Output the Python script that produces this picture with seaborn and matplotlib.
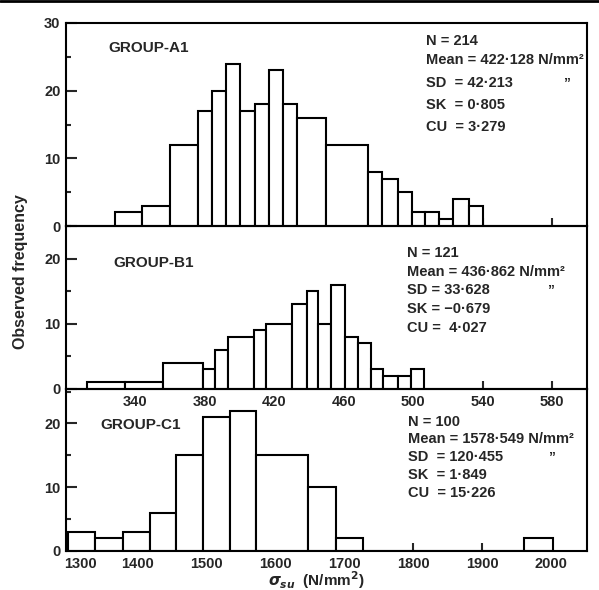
import numpy as np
import pandas as pd
import matplotlib
matplotlib.use("Agg")
import matplotlib.pyplot as plt
import matplotlib.transforms as mtransforms
import seaborn as sns
from matplotlib.lines import Line2D
from matplotlib.ticker import MultipleLocator, FixedLocator

# ---------------- data ----------------
a1_edges = [328, 344, 360, 376, 384, 392, 400, 409, 417, 425, 433, 449.5,
            474, 482, 491, 499, 507, 515, 523, 532, 540]
a1_counts = [2, 3, 12, 17, 20, 24, 17, 18, 23, 18, 16, 12, 8, 7, 5, 2, 2, 1, 4, 3]
a1_title = "GROUP-A1"
a1_stats = ["N = 214", "Mean = 422·128 N/mm²", "SD  = 42·213", "SK  = 0·805", "CU  = 3·279"]

b1_edges = [312, 334, 356, 379, 385.6, 393.3, 408, 415, 430.3, 438.6, 445.3,
            452.6, 460.7, 468, 475.7, 482.8, 490.9, 498.8, 506]
b1_counts = [1, 1, 4, 3, 6, 8, 9, 10, 13, 15, 10, 16, 8, 7, 3, 2, 2, 3]
b1_title = "GROUP-B1"
b1_stats = ["N = 121", "Mean = 436·862 N/mm²", "SD = 33·628", "SK = −0·679", "CU =  4·027"]

c1_edges = [1300, 1339, 1379, 1419, 1457, 1495, 1535, 1573, 1647, 1688, 1728, 1961, 2003]
c1_counts = [3, 2, 3, 6, 15, 21, 22, 15, 10, 2, 0, 2]
c1_title = "GROUP-C1"
c1_stats = ["N = 100", "Mean = 1578·549 N/mm²", "SD  = 120·455", "SK  = 1·849", "CU  = 15·226"]

ab_xticks = [340, 380, 420, 460, 500, 540, 580]
c_xticks = [1300, 1400, 1500, 1600, 1700, 1800, 1900, 2000]
ylabel = "Observed frequency"
xlabel = r"$\sigma_{su}$  (N/mm$^2$)"

# ---------------- style ----------------
sns.set_style("ticks")
plt.rcParams["font.family"] = ["Liberation Sans", "DejaVu Sans"]
plt.rcParams["font.weight"] = "bold"
plt.rcParams["mathtext.fontset"] = "dejavusans"

W, H = 599, 590
fig = plt.figure(figsize=(W / 100, H / 100), dpi=100)
gs = fig.add_gridspec(3, 1, left=66 / W, right=587 / W, top=1 - 23 / H, bottom=1 - 551 / H,
                      height_ratios=[203, 163, 162], hspace=0)
axes = [fig.add_subplot(gs[i]) for i in range(3)]

LW = 1.5
panels = [
    (a1_edges, a1_counts, (300, 600), 30, ab_xticks, False),
    (b1_edges, b1_counts, (300, 600), 25, ab_xticks, True),
    (c1_edges, c1_counts, (1297, 2052), 25.4, c_xticks, True),
]

for ax, (edges, counts, xlim, ymax, xticks, showx) in zip(axes, panels):
    e = [float(v) for v in edges]
    mids = [(a + b) / 2 for a, b in zip(e[:-1], e[1:])]
    df = pd.DataFrame({"x": mids, "w": [float(c) for c in counts]})
    sns.histplot(data=df, x="x", weights="w", bins=e, ax=ax, stat="count",
                 element="bars", fill=True, color="white", edgecolor="black",
                 linewidth=LW, alpha=1)
    ax.set_xlim(*xlim)
    ax.set_ylim(0, ymax)
    ax.set_xlabel("")
    ax.set_ylabel("")
    ax.patch.set_alpha(0)
    for s in ax.spines.values():
        s.set_linewidth(LW)
        s.set_color("black")
    ax.yaxis.set_major_locator(MultipleLocator(10))
    ax.yaxis.set_minor_locator(MultipleLocator(5))
    ax.xaxis.set_major_locator(FixedLocator(xticks))
    ax.tick_params(axis="y", which="major", direction="in", length=8, width=LW,
                   labelsize=10.5, pad=4)
    ax.tick_params(axis="y", which="minor", direction="in", length=3.5, width=LW)
    ax.tick_params(axis="x", which="major", direction="in", length=6, width=LW,
                   labelsize=10.5, pad=4, labelbottom=showx)
    for lab in ax.get_xticklabels() + ax.get_yticklabels():
        lab.set_fontweight("bold")

axes[0].set_zorder(3)
axes[1].set_zorder(2)
axes[2].set_zorder(1)

# the first bottom label sits a little to the right of its tick, as in the reference
fig.canvas.draw()
t0 = axes[2].xaxis.get_major_ticks()[0]
t0.label1.set_transform(t0.label1.get_transform() +
                        mtransforms.ScaledTranslation(9 / 72, 0, fig.dpi_scale_trans))


def ftext(x, y, s, **kw):
    fig.text(x / W, 1 - y / H, s, va="center", ha="left", fontweight="bold", **kw)


# group titles
ftext(108, 48, a1_title, fontsize=11)
ftext(113, 263, b1_title, fontsize=11)
ftext(100, 425, c1_title, fontsize=11)

# statistics blocks
blocks = [
    (a1_stats, 426, [41, 60, 83, 105, 127], 563),
    (b1_stats, 407, [253, 272, 290, 309, 328], 547),
    (c1_stats, 408, [422, 439, 457, 475, 493], 548),
]
for lines, x0, ys, dx in blocks:
    for s, y in zip(lines, ys):
        ftext(x0, y, s, fontsize=10.5)
    ftext(dx, ys[2], "\u201d", fontsize=10)

# axis labels
fig.text(21 / W, 1 - 272 / H, ylabel, rotation=90, va="center", ha="center",
         fontsize=11.5, fontweight="bold")
fig.text(316 / W, 1 - 580 / H, xlabel, va="center", ha="center", fontsize=11,
         fontweight="bold")

# scan border line on top
fig.add_artist(Line2D([0, 1], [1 - 1 / H, 1 - 1 / H], transform=fig.transFigure,
                      color="black", lw=2))

fig.savefig("out.png", dpi=100)
